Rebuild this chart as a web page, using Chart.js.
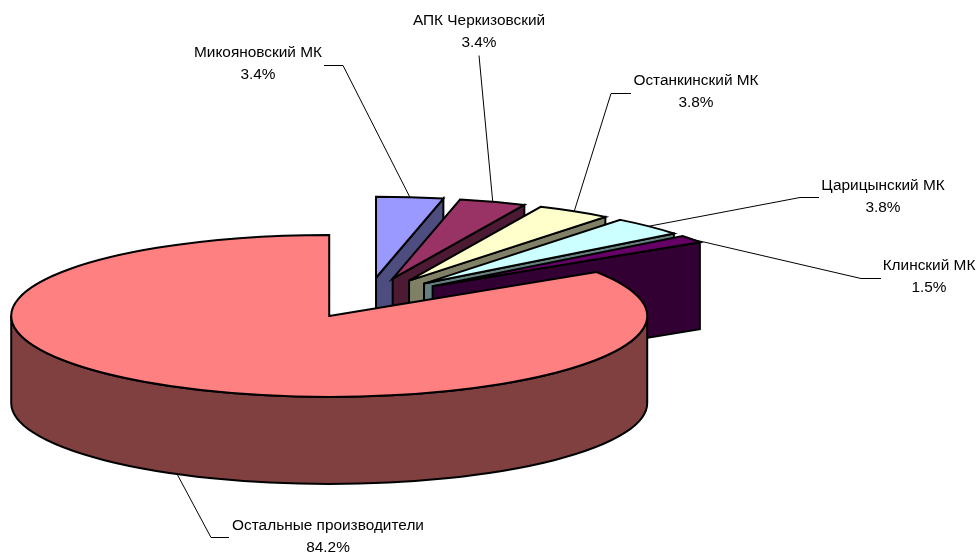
<!DOCTYPE html>
<html>
<head>
<meta charset="utf-8">
<style>
  html, body { margin: 0; padding: 0; background: #fff; }
  canvas { display: block; }
</style>
<script src="https://cdn.jsdelivr.net/npm/chart.js@4"></script>
</head>
<body>
<canvas id="chart" width="976" height="552"></canvas>
<script>
const categories = ['Микояновский МК', 'АПК Черкизовский', 'Останкинский МК', 'Царицынский МК', 'Клинский МК', 'Остальные производители']
const shares = [3.4, 3.4, 3.8, 3.8, 1.5, 84.2]
const topColors = ['#9999FF', '#993366', '#FFFFCC', '#CCFFFF', '#660066', '#FF8080']
const wallColors = ['#4D4D80', '#4D1A33', '#808066', '#668080', '#330033', '#804040']

// label centre + where the leader bends, one per slice
const labelSpots = [
  { x: 258, y: 53, bend: [343, 65], end: [324, 65] },
  { x: 479, y: 21, bend: null, end: [479, 55] },
  { x: 696, y: 81, bend: [611, 93], end: [631, 93] },
  { x: 883, y: 186, bend: [800, 197], end: [819, 197] },
  { x: 929, y: 266, bend: [861, 278], end: [881, 278] },
  { x: 328, y: 526, bend: [211, 537], end: [229, 537] }
]

const TILT = 81 / 318
const DEPTH = 87
const EXPLODE = 80
const LINE_GAP = 22

const midAngle = arc => (arc.startAngle + arc.endAngle) / 2

// slice apex on screen, after exploding along the mid angle
const apex = arc => {
  const mid = midAngle(arc)
  return { x: arc.x + Math.cos(mid) * EXPLODE, y: arc.y + Math.sin(mid) * EXPLODE * TILT }
}

const rimPoint = (arc, angle) => {
  const a = apex(arc)
  return { x: a.x + Math.cos(angle) * arc.outerRadius, y: a.y + Math.sin(angle) * arc.outerRadius * TILT }
}

const paintPath = (ctx, fill) => {
  ctx.fillStyle = fill
  ctx.fill()
  ctx.stroke()
}

const drawRadialWall = (ctx, arc, angle, fill) => {
  const a = apex(arc)
  const p = rimPoint(arc, angle)
  ctx.beginPath()
  ctx.moveTo(a.x, a.y)
  ctx.lineTo(p.x, p.y)
  ctx.lineTo(p.x, p.y + DEPTH)
  ctx.lineTo(a.x, a.y + DEPTH)
  ctx.closePath()
  paintPath(ctx, fill)
}

const drawRimWall = (ctx, arc, fill) => {
  // only the part of the rim turned towards the viewer, canvas angles 0..PI
  const from = Math.max(arc.startAngle, 0)
  const to = Math.min(arc.endAngle, Math.PI)
  if (to <= from) return
  const a = apex(arc)
  const R = arc.outerRadius
  ctx.beginPath()
  ctx.ellipse(a.x, a.y, R, R * TILT, 0, from, to)
  ctx.ellipse(a.x, a.y + DEPTH, R, R * TILT, 0, to, from, true)
  ctx.closePath()
  paintPath(ctx, fill)
}

const tiltedPie = {
  id: 'tiltedPie',
  beforeDatasetsDraw(chart) {
    const ctx = chart.ctx
    const arcs = chart.getDatasetMeta(0).data
    ctx.save()
    ctx.strokeStyle = '#000'
    ctx.lineWidth = 2
    ctx.lineJoin = 'miter'
    arcs.forEach((arc, i) => {
      drawRimWall(ctx, arc, wallColors[i])
      if (Math.cos(arc.endAngle) > 1e-6) drawRadialWall(ctx, arc, arc.endAngle, wallColors[i])

      // top face comes from the library, moved out and squashed
      const a = apex(arc)
      ctx.save()
      ctx.translate(a.x - arc.x, a.y)
      ctx.scale(1, TILT)
      ctx.translate(0, -arc.y)
      arc.draw(ctx)
      ctx.restore()

      ctx.beginPath()
      ctx.moveTo(a.x, a.y)
      ctx.ellipse(a.x, a.y, arc.outerRadius, arc.outerRadius * TILT, 0, arc.startAngle, arc.endAngle)
      ctx.closePath()
      ctx.stroke()
    })
    ctx.restore()
    return false
  },
  // afterDatasetsDraw is skipped once the hook above cancels the default draw
  afterDraw(chart) {
    const ctx = chart.ctx
    const arcs = chart.getDatasetMeta(0).data
    ctx.save()
    ctx.strokeStyle = '#000'
    ctx.lineWidth = 1
    ctx.fillStyle = '#000'
    ctx.font = '15.4px "Liberation Sans", Arial, sans-serif'
    ctx.textAlign = 'center'
    ctx.textBaseline = 'middle'
    arcs.forEach((arc, i) => {
      const spot = labelSpots[i]
      const mid = midAngle(arc)
      const start = rimPoint(arc, mid)
      if (Math.sin(mid) > 0) start.y += DEPTH
      ctx.beginPath()
      ctx.moveTo(start.x, start.y)
      if (spot.bend) ctx.lineTo(spot.bend[0], spot.bend[1] + 0.5)
      ctx.lineTo(spot.end[0], spot.end[1] + 0.5)
      ctx.stroke()
      ctx.fillText(categories[i], spot.x, spot.y)
      ctx.fillText(shares[i].toFixed(1) + '%', spot.x, spot.y + LINE_GAP)
    })
    ctx.restore()
  }
}

new Chart(document.getElementById('chart'), {
  type: 'pie',
  data: {
    labels: categories,
    datasets: [{
      data: shares,
      backgroundColor: topColors,
      borderWidth: 0
    }]
  },
  options: {
    responsive: false,
    animation: false,
    events: [],
    radius: 318,
    layout: { padding: { right: 241, top: 44 } },
    plugins: {
      legend: { display: false },
      tooltip: { enabled: false }
    }
  },
  plugins: [tiltedPie]
})
</script>
</body>
</html>
